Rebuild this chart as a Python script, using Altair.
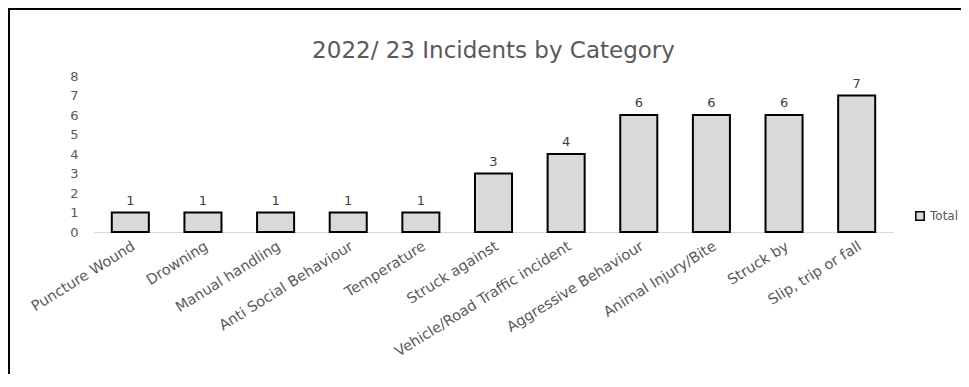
import altair as alt
import pandas as pd

categories = [
    "Puncture Wound", "Drowning", "Manual handling", "Anti Social Behaviour",
    "Temperature", "Struck against", "Vehicle/Road Traffic incident",
    "Aggressive Behaviour", "Animal Injury/Bite", "Struck by", "Slip, trip or fall",
]
values = [1, 1, 1, 1, 1, 3, 4, 6, 6, 6, 7]
series = ["Total"] * len(categories)
y_ticks = [0, 1, 2, 3, 4, 5, 6, 7, 8]

df = pd.DataFrame({"category": categories, "value": values, "series": series})

FONT = "DejaVu Sans"
W, H = 799, 156

x_enc = alt.X(
    "category:N",
    sort=categories,
    scale=alt.Scale(paddingInner=0.49, paddingOuter=0.245),
    axis=alt.Axis(
        title=None, ticks=False, domainColor="#d9d9d9", domainWidth=1,
        labelAngle=-32, labelAlign="right", labelBaseline="top",
        labelPadding=7, labelFont=FONT, labelFontSize=14.5, labelColor="#595959",
        labelLimit=400, labelOverlap=False,
    ),
)
y_enc = alt.Y(
    "value:Q",
    scale=alt.Scale(domain=[0, 8], nice=False),
    axis=alt.Axis(
        title=None, values=y_ticks, tickCount=9, domain=False, ticks=False, grid=False,
        labelFont=FONT, labelFontSize=13, labelColor="#595959", labelPadding=16,
        labelOverlap=False, labelFlush=False,
    ),
)

bars = alt.Chart(df).mark_bar(stroke="black", strokeWidth=2).encode(
    x=x_enc,
    y=y_enc,
    color=alt.Color(
        "series:N",
        scale=alt.Scale(range=["#d9d9d9"]),
        legend=alt.Legend(
            title=None, orient="none", legendX=820, legendY=134,
            symbolType="square", symbolSize=70, symbolStrokeColor="black",
            symbolStrokeWidth=1.5, symbolFillColor="#d9d9d9",
            labelFont=FONT, labelFontSize=12, labelColor="#595959", labelOffset=4,
        ),
    ),
)

labels = alt.Chart(df).mark_text(
    dy=-12, font=FONT, fontSize=13, color="#404040"
).encode(x=x_enc, y=y_enc, text="value:Q")

frame = alt.Chart(df).mark_rect(
    fill=None, stroke="black", strokeWidth=2
).encode(
    x=alt.value(-85), x2=alt.value(W + 200),
    y=alt.value(-67), y2=alt.value(H + 300),
)

chart = alt.layer(bars, labels, frame).properties(
    width=W,
    height=H,
    autosize=alt.AutoSizeParams(type="none"),
    padding={"left": 86, "top": 68, "right": 68, "bottom": 142},
    title=alt.TitleParams(
        "2022/ 23 Incidents by Category",
        font=FONT, fontSize=23, fontWeight="normal", color="#595959",
        anchor="middle", offset=-55,
    ),
).configure_view(stroke=None)

chart.save("out.html", embed_options={"renderer": "svg", "actions": False})
